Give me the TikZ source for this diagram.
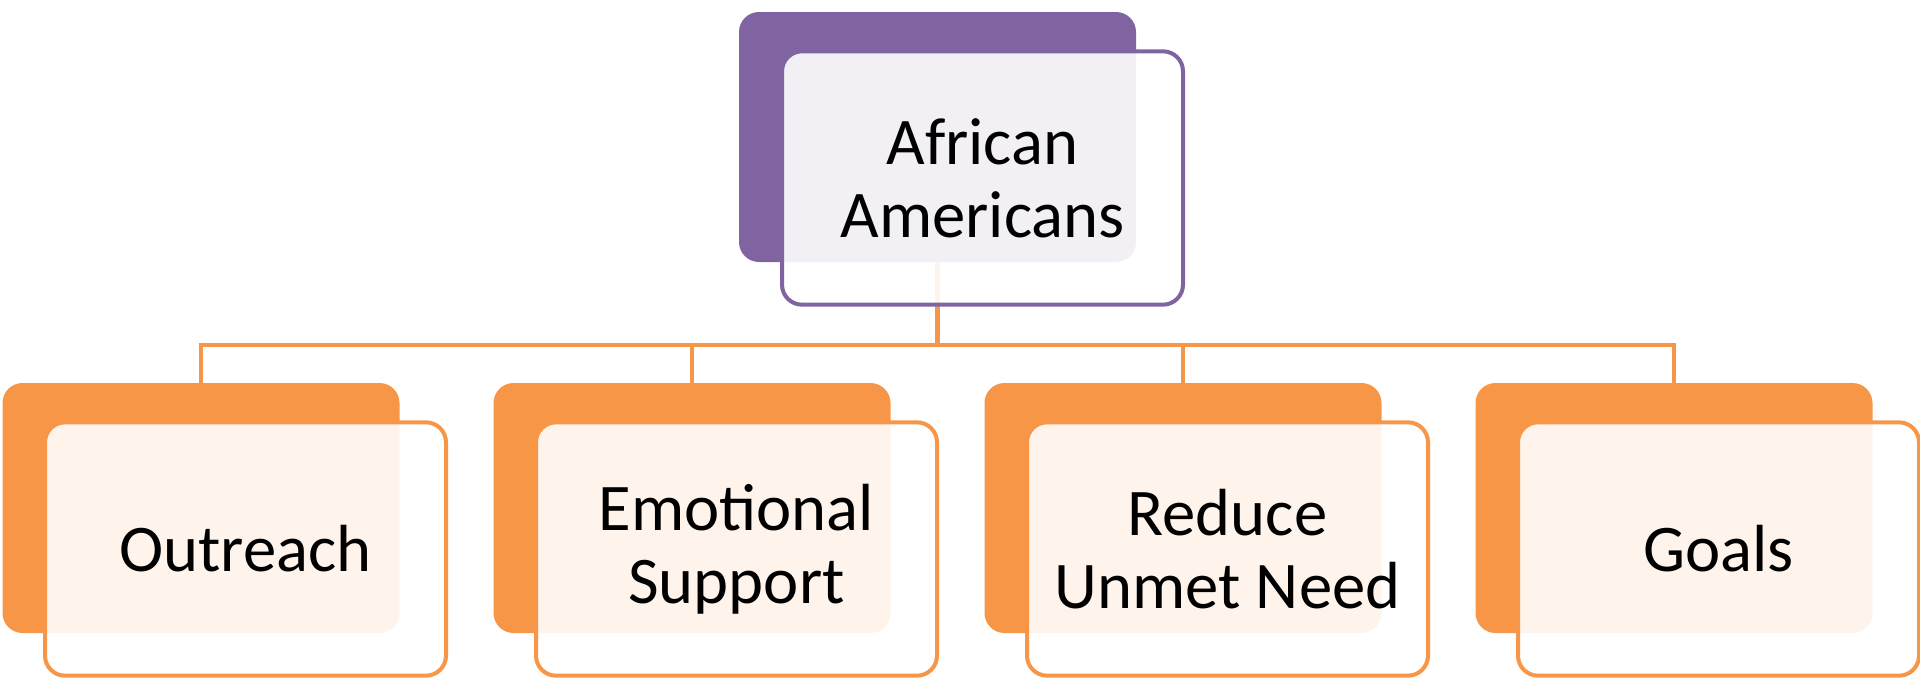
\documentclass[tikz,border=0pt]{standalone}
\usepackage{fontspec}
\setmainfont{Carlito}
\usepackage{xcolor}

\definecolor{topcol}{HTML}{8064A2}
\definecolor{subcol}{HTML}{F79646}

\tikzset{
    backbox/.style={rectangle, rounded corners=15pt, inner sep=0pt,
        minimum width=297.75pt, minimum height=187.5pt},
    frontbox/.style={rectangle, rounded corners=15pt, inner sep=0pt, line width=3pt,
        fill=white, fill opacity=0.9, text opacity=1, align=center,
        minimum width=300.75pt, minimum height=190pt,
        font=\fontsize{50}{55}\selectfont},
    link/.style={draw=subcol, line width=3.5pt}
}

\begin{document}
\begin{tikzpicture}[x=0.75pt, y=-0.75pt]
            \useasboundingbox (0, 0) rectangle (1920, 678);
            % top of the tree
            \node[backbox, fill=topcol] (aaback) at (937.5, 137) {};
            \foreach \name/\x in {outreach/201, support/692, reduce/1183, goals/1674} {
                \node[backbox, fill=subcol] (\name back) at (\x, 508) {};
            }
            \coordinate (bus) at (937.5, 345);
            \foreach \name in {outreach, support, reduce, goals} {
                \draw[link] (aaback.south) -- (bus) -| (\name back.north);
            }
            \node[frontbox, draw=topcol] (aa) at (982.5, 178) {African\\Americans};
            \foreach \name/\x/\txt in {outreach/201/Outreach, support/692/{Emotional\\Support},
                                       reduce/1183/{Reduce\\Unmet Need}, goals/1674/Goals} {
                \node[frontbox, draw=subcol] (\name) at (\x+44.5, 549) {\txt};
            }
        \end{tikzpicture}
\end{document}
